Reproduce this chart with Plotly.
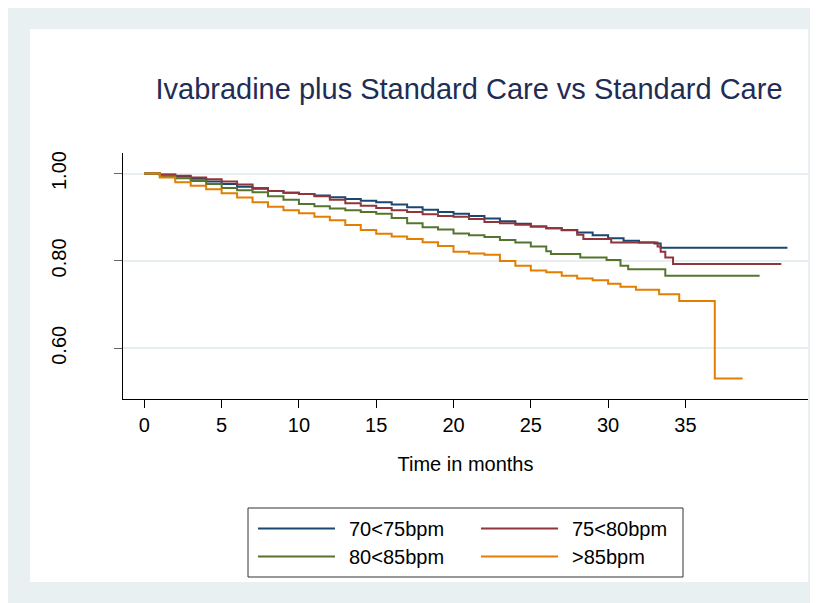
import plotly.graph_objects as go

# ---------------- data ----------------
series_names = ["70<75bpm", "75<80bpm", "80<85bpm", ">85bpm"]
series_colors = ["#1a476f", "#90353b", "#55752f", "#e37e00"]

t_7075 = [0, 1, 2, 3, 4, 5, 6, 7, 8, 9, 10, 11, 12, 13, 14, 15, 16, 17, 18, 19, 20,
          21, 22, 23, 24, 25, 26, 27, 28, 29, 30, 31, 32, 33, 33.4, 41.6]
s_7075 = [1.0, 0.997, 0.993, 0.988, 0.982, 0.976, 0.970, 0.965, 0.960, 0.956, 0.953,
          0.950, 0.946, 0.942, 0.938, 0.934, 0.929, 0.923, 0.917, 0.912, 0.908, 0.903,
          0.897, 0.891, 0.885, 0.879, 0.875, 0.871, 0.865, 0.859, 0.852, 0.846, 0.842,
          0.840, 0.830, 0.830]

t_7580 = [0, 1, 2, 3, 4, 5, 6, 7, 8, 9, 10, 11, 12, 13, 14, 15, 16, 17, 18, 19, 20,
          21, 22, 23, 24, 25, 26, 27, 28, 28.4, 30.2, 33.2, 33.4, 33.7, 34.2, 41.2]
s_7580 = [1.0, 0.998, 0.995, 0.991, 0.987, 0.982, 0.975, 0.967, 0.960, 0.956, 0.953,
          0.948, 0.940, 0.932, 0.926, 0.921, 0.916, 0.912, 0.907, 0.903, 0.901, 0.896,
          0.889, 0.886, 0.883, 0.879, 0.875, 0.870, 0.860, 0.850, 0.842, 0.833, 0.821,
          0.808, 0.793, 0.793]

t_8085 = [0, 1, 2, 3, 4, 5, 6, 7, 8, 9, 10, 11, 12, 13, 14, 15, 16, 17, 18, 19, 20,
          21, 22, 23, 24, 25, 26, 26.3, 28.2, 29.9, 30.8, 31.3, 33.7, 39.8]
s_8085 = [1.0, 0.994, 0.989, 0.983, 0.976, 0.967, 0.962, 0.957, 0.948, 0.940, 0.930,
          0.925, 0.920, 0.916, 0.912, 0.908, 0.898, 0.886, 0.877, 0.872, 0.863, 0.859,
          0.855, 0.848, 0.842, 0.833, 0.822, 0.816, 0.808, 0.802, 0.789, 0.781, 0.766,
          0.766]

t_85 = [0, 1, 2, 3, 4, 5, 6, 7, 8, 9, 10, 11, 12, 13, 14, 15, 16, 17, 18, 19, 20,
        21, 22, 23, 24, 25, 26, 27, 28, 29, 30, 30.8, 31.8, 33.3, 34.6, 36.9, 38.7]
s_85 = [1.0, 0.991, 0.980, 0.972, 0.964, 0.955, 0.945, 0.934, 0.924, 0.916, 0.909,
        0.901, 0.893, 0.882, 0.871, 0.862, 0.856, 0.850, 0.843, 0.834, 0.821, 0.817,
        0.814, 0.800, 0.789, 0.778, 0.774, 0.766, 0.760, 0.756, 0.748, 0.741, 0.734,
        0.724, 0.708, 0.531, 0.531]

x_ticks = [0, 5, 10, 15, 20, 25, 30, 35]
y_ticks = [0.6, 0.8, 1.0]
y_tick_labels = ["0.60", "0.80", "1.00"]

title_text = "Ivabradine plus Standard Care vs Standard Care"
x_title = "Time in months"

# ---------------- layout geometry (figure pixel coordinates) ----------------
W, H = 818, 603
OFF = 8                                  # page offset of the figure
PL, PR, PT, PB = 123 - OFF, 808 - OFF, 153 - OFF, 399 - OFF


def px(x):
    return (x - OFF - PL) / (PR - PL)


def py(y):
    return (PB - (y - OFF)) / (PB - PT)


FONT = "Liberation Sans, Arial, sans-serif"
BAND = "#e8f0f2"

fig = go.Figure()
times = [t_7075, t_7580, t_8085, t_85]
survs = [s_7075, s_7580, s_8085, s_85]
for name, col, t, s in zip(series_names, series_colors, times, survs):
    fig.add_trace(go.Scatter(x=t, y=s, mode="lines", name=name,
                             line=dict(color=col, width=2, shape="hv"),
                             showlegend=False))

shapes = [
    # white panel
    dict(type="rect", xref="paper", yref="paper", x0=px(30), x1=px(808),
         y0=py(582), y1=py(29), fillcolor="white", line=dict(width=0), layer="below"),
    # legend box
    dict(type="rect", xref="paper", yref="paper", x0=px(248), x1=px(683),
         y0=py(577), y1=py(508), fillcolor="white", line=dict(color="#333333", width=1)),
]

annotations = []
leg_cols = [(258, 335, 347), (481, 558, 570)]
leg_rows = [528.5, 556.5]
for i, (name, col) in enumerate(zip(series_names, series_colors)):
    c = leg_cols[i % 2]
    r = leg_rows[i // 2]
    shapes.append(dict(type="line", xref="paper", yref="paper", x0=px(c[0]), x1=px(c[1]),
                       y0=py(r), y1=py(r), line=dict(color=col, width=2)))
    annotations.append(dict(xref="paper", yref="paper", x=px(c[2]), y=py(r), text=name,
                            showarrow=False, xanchor="left", yanchor="middle",
                            font=dict(family=FONT, size=20, color="black")))

fig.update_layout(
    width=W, height=H,
    margin=dict(l=PL, r=W - PR, t=PT, b=H - PB, pad=0),
    paper_bgcolor=BAND,
    plot_bgcolor="white",
    showlegend=False,
    title=dict(text=title_text, x=px(469), xref="paper", xanchor="center",
               y=1 - (89 - OFF) / H, yref="container", yanchor="middle",
               font=dict(family=FONT, size=29, color="#1f2d55")),
    shapes=shapes,
    annotations=annotations,
    font=dict(family=FONT, size=20, color="black"),
)

fig.update_xaxes(range=[-1.38, 42.93], tickvals=x_ticks, ticks="outside", ticklen=8,
                 tickwidth=1, tickcolor="black", showline=True, linecolor="black",
                 linewidth=1, showgrid=False, zeroline=False,
                 tickfont=dict(family=FONT, size=20, color="black"),
                 title=dict(text=x_title, standoff=21,
                            font=dict(family=FONT, size=20, color="black")))
fig.update_yaxes(range=[0.484, 1.047], tickvals=y_ticks, ticktext=y_tick_labels,
                 tickangle=-90, ticks="outside", ticklen=8, tickwidth=1,
                 tickcolor="#666666", showline=True, linecolor="black", linewidth=1,
                 showgrid=True, gridcolor="#e6eef1", gridwidth=2, zeroline=False,
                 ticklabelstandoff=40,
                 tickfont=dict(family=FONT, size=20, color="black"))

fig.write_html("out.html")
